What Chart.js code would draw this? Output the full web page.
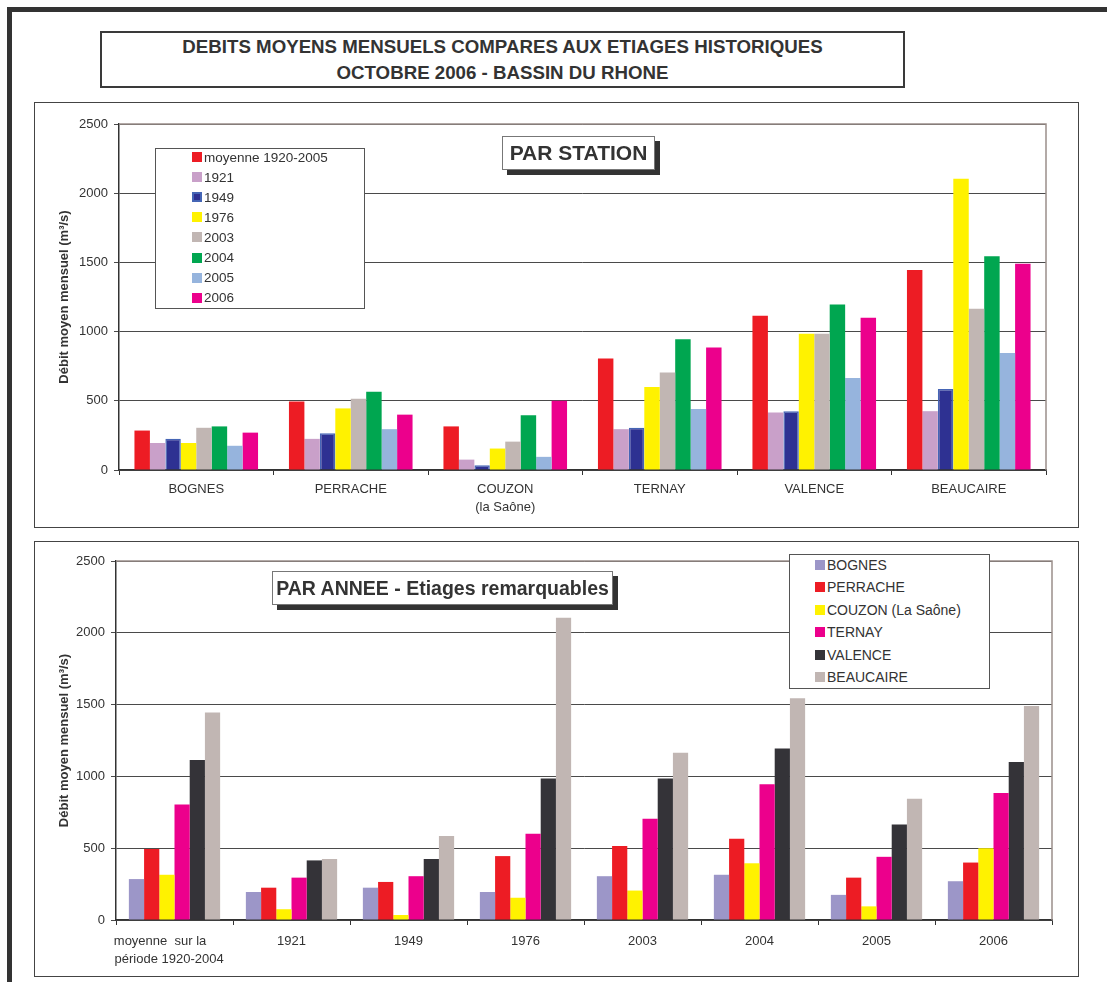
<!DOCTYPE html>
<html lang="fr">
<head>
<meta charset="utf-8">
<title>Débits moyens mensuels - octobre 2006 - bassin du Rhône</title>
<script src="https://cdn.jsdelivr.net/npm/chart.js@4.4.1/dist/chart.umd.min.js"></script>
<style>
  body { margin: 0; background: #fff; font-family: "Liberation Sans", Arial, sans-serif; color: #333; }
  #page { position: relative; width: 1107px; height: 982px; overflow: hidden; }
  .trait { position: absolute; background: #333; }
  #titre {
    position: absolute; left: 100px; top: 31px; width: 805px; height: 57px; box-sizing: border-box;
    border: 2px solid #3a3a3a; display: flex; align-items: center; justify-content: center;
    text-align: center; font-weight: bold; font-size: 18.7px; line-height: 26px; color: #333;
  }
  .boite { position: absolute; box-sizing: border-box; border: 1.5px solid #444; background: #fff; }
  .zone { position: absolute; }
  .etiquette {
    position: absolute; box-sizing: border-box; border: 1px solid #777; background: #fff;
    box-shadow: 5px 5px 0 #333; font-weight: bold; color: #333;
    display: flex; align-items: center; justify-content: center; white-space: nowrap;
  }
  .legende { position: absolute; box-sizing: border-box; border: 1.5px solid #555; background: #fff; }
  .ligne { position: absolute; display: flex; align-items: center; white-space: nowrap; color: #333; }
  .carre { display: inline-block; width: 10px; height: 10px; box-sizing: border-box; margin-right: 2px; }
</style>
</head>
<body>
<div id="page">
  <div class="trait" style="left:7px; top:7px; width:1100px; height:4.5px;"></div>
  <div class="trait" style="left:7px; top:7px; width:4.5px; height:975px;"></div>

  <div id="titre">DEBITS MOYENS MENSUELS COMPARES AUX ETIAGES HISTORIQUES<br>OCTOBRE 2006 - BASSIN DU RHONE</div>

  <div class="boite" style="left:34px; top:102px; width:1045px; height:426px;"></div>
  <div class="zone" style="left:34px; top:102px; width:1045px; height:426px;"><canvas id="graphStation"></canvas></div>
  <div class="legende" id="legStation" style="left:155px; top:148px; width:210px; height:161px;"></div>
  <div class="etiquette" style="left:502px; top:136px; width:153px; height:34px; font-size:21px;">PAR STATION</div>

  <div class="boite" style="left:34px; top:541px; width:1045px; height:436px;"></div>
  <div class="zone" style="left:34px; top:541px; width:1045px; height:436px;"><canvas id="graphAnnee"></canvas></div>
  <div class="legende" id="legAnnee" style="left:789px; top:554px; width:201px; height:135px;"></div>
  <div class="etiquette" style="left:272px; top:571px; width:341px; height:34px; font-size:19.5px;">PAR ANNEE - Etiages remarquables</div>
</div>

<script>
// colonnes : moyenne, 1921, 1949, 1976, 2003, 2004, 2005, 2006
const annees = ['moyenne 1920-2005', '1921', '1949', '1976', '2003', '2004', '2005', '2006'];
const anneesAxe = [['moyenne  sur la        ', 'période 1920-2004   '], '1921', '1949', '1976', '2003', '2004', '2005', '2006'];
const couleursAnnees = ['#ed1c24', '#c9a0c9', '#2e3192', '#fff200', '#c1b6b3', '#00a650', '#96b4dd', '#ec008c'];

const stations = ['BOGNES', 'PERRACHE', ['COUZON', '(la Saône)'], 'TERNAY', 'VALENCE', 'BEAUCAIRE'];
const stationsLegende = ['BOGNES', 'PERRACHE', 'COUZON (La Saône)', 'TERNAY', 'VALENCE', 'BEAUCAIRE'];
const couleursStations = ['#9c96c8', '#ed1c24', '#fff200', '#ec008c', '#343338', '#c1b6b3'];

// débits moyens mensuels d'octobre (m3/s)
const bognes    = [285, 195, 225, 195, 305, 315, 175, 270];
const perrache  = [495, 225, 265, 445, 515, 565, 295, 400];
const couzon    = [315,  75,  35, 155, 205, 395,  95, 500];
const ternay    = [805, 295, 305, 600, 705, 945, 440, 885];
const valence   = [1115, 415, 425, 985, 985, 1195, 665, 1100];
const beaucaire = [1445, 425, 585, 2105, 1165, 1545, 845, 1490];

const yTicks = [0, 500, 1000, 1500, 2000, 2500];

const parStation = [bognes, perrache, couzon, ternay, valence, beaucaire];

const police = '"Liberation Sans", Arial, sans-serif';
const grisAxe = '#333';
const brun = '#9b8f8b';

// cadre du graphique (haut et droite)
const cadre = {
  id: 'cadre',
  afterDraw(chart) {
    const { ctx, chartArea: a } = chart;
    ctx.save();
    ctx.strokeStyle = brun;
    ctx.lineWidth = 1.5;
    ctx.beginPath();
    ctx.moveTo(a.left, a.top);
    ctx.lineTo(a.right, a.top);
    ctx.lineTo(a.right, a.bottom);
    ctx.stroke();
    ctx.restore();
  }
};

function options(largeurY, hauteurX, pad, catPct, padX) {
  return {
    responsive: true,
    maintainAspectRatio: false,
    animation: false,
    layout: { padding: pad },
    plugins: { legend: { display: false }, tooltip: { enabled: false } },
    scales: {
      x: {
        grid: { display: true, drawOnChartArea: false, drawTicks: true, tickLength: 5, color: grisAxe, offset: true },
        border: { display: true, color: grisAxe, width: 1.5 },
        ticks: { color: '#333', font: { family: police, size: 13, lineHeight: 1.35 }, padding: padX, maxRotation: 0, autoSkip: false },
        afterFit(s) { s.height = hauteurX; }
      },
      y: {
        min: 0,
        max: 2500,
        afterBuildTicks(s) { s.ticks = yTicks.map(v => ({ value: v })); },
        grid: { color: '#4a4a4a', lineWidth: 1, tickLength: 5 },
        border: { display: true, color: grisAxe, width: 1.5 },
        ticks: { color: '#333', font: { family: police, size: 13 }, padding: 6, callback: v => String(v) },
        title: {
          display: true,
          text: 'Débit moyen mensuel (m³/s)',
          color: '#333',
          font: { family: police, size: 13, weight: 'bold', lineHeight: 1.2 },
          padding: { top: 3, bottom: 0 }
        },
        afterFit(s) { s.width = largeurY; }
      }
    },
    datasets: { bar: { categoryPercentage: catPct, barPercentage: 1 } }
  };
}

// graphique par station : une série par année
new Chart(document.getElementById('graphStation'), {
  type: 'bar',
  data: {
    labels: stations,
    datasets: annees.map((a, i) => ({
      label: a,
      data: parStation.map(s => s[i]),
      backgroundColor: couleursAnnees[i],
      borderColor: i === 2 ? '#4565b5' : couleursAnnees[i],
      borderWidth: i === 2 ? 1.5 : 0
    }))
  },
  options: options(65, 58, { left: 20, top: 22, right: 33, bottom: 0 }, 0.8, 6),
  plugins: [cadre]
});

// graphique par année : une série par station
new Chart(document.getElementById('graphAnnee'), {
  type: 'bar',
  data: {
    labels: anneesAxe,
    datasets: stationsLegende.map((s, j) => ({
      label: s,
      data: parStation[j],
      backgroundColor: couleursStations[j],
      borderWidth: 0
    }))
  },
  options: options(62, 57, { left: 20, top: 20, right: 27, bottom: 0 }, 0.78, 8),
  plugins: [cadre]
});

// légendes
function legende(id, noms, couleurs, x, y0, pas, taille) {
  const boite = document.getElementById(id);
  noms.forEach((n, i) => {
    const l = document.createElement('div');
    l.className = 'ligne';
    l.style.left = x + 'px';
    l.style.top = (y0 + i * pas - 10) + 'px';
    l.style.height = '20px';
    l.style.fontSize = taille + 'px';
    const c = document.createElement('span');
    c.className = 'carre';
    c.style.background = couleurs[i];
    if (id === 'legStation' && i === 2) c.style.border = '2px solid #4565b5';
    l.appendChild(c);
    l.appendChild(document.createTextNode(n));
    boite.appendChild(l);
  });
}
legende('legStation', annees, couleursAnnees, 36, 8, 20.1, 13.5);
legende('legAnnee', stationsLegende, couleursStations, 25, 10, 22.4, 14);
</script>
</body>
</html>
